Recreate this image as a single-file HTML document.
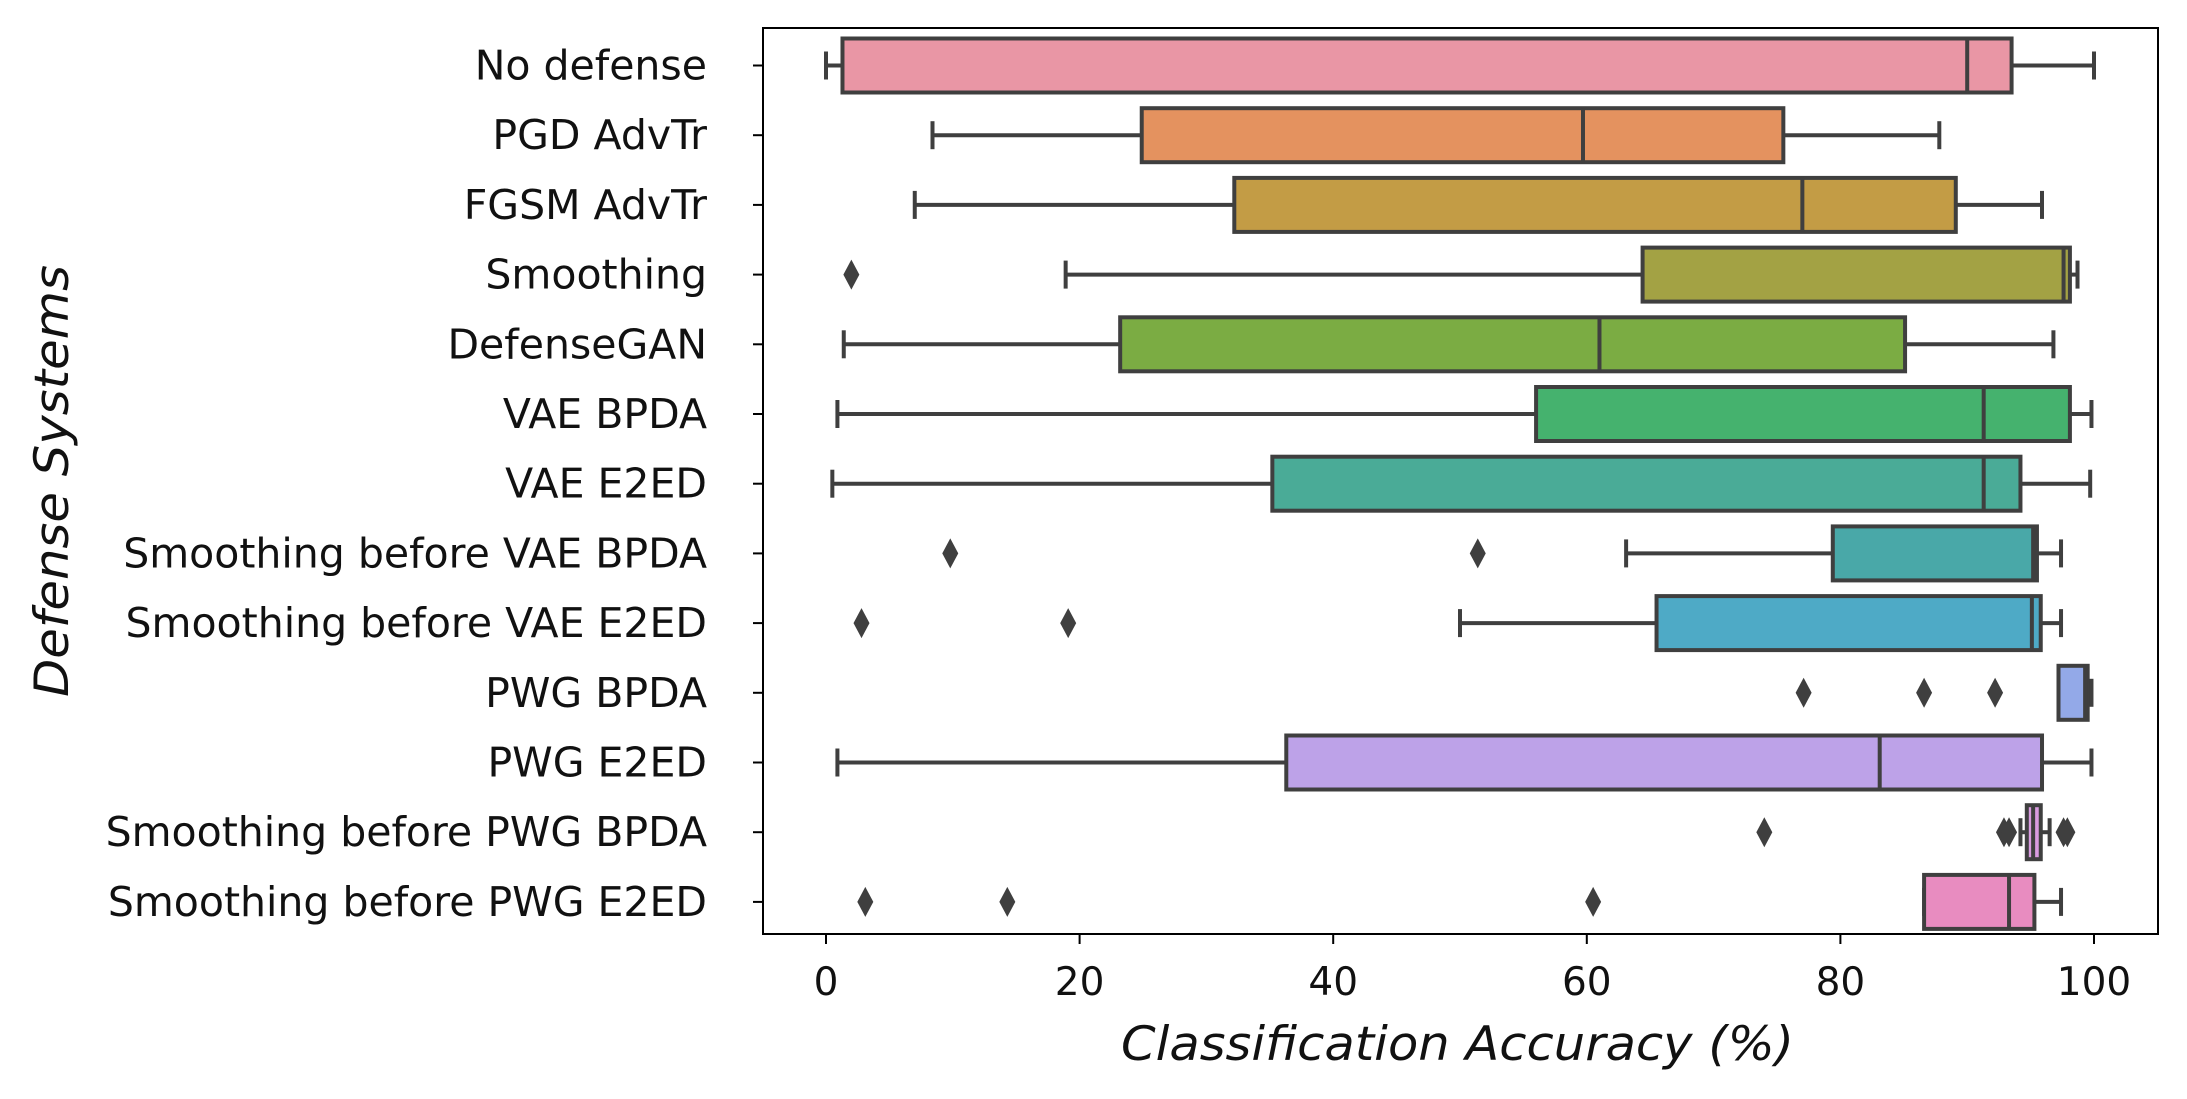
<!DOCTYPE html>
<html><head><meta charset="utf-8"><style>
html,body{margin:0;padding:0;background:#fff;}
svg{display:block;font-family:"DejaVu Sans","Liberation Sans",sans-serif;}
</style></head><body>
<svg id="chart" width="2187" height="1099" viewBox="0 0 2187 1099" xmlns="http://www.w3.org/2000/svg"></svg>
<script>
const categories = ["No defense","PGD AdvTr","FGSM AdvTr","Smoothing","DefenseGAN","VAE BPDA","VAE E2ED","Smoothing before VAE BPDA","Smoothing before VAE E2ED","PWG BPDA","PWG E2ED","Smoothing before PWG BPDA","Smoothing before PWG E2ED"];
const whiskerLow = [0,8.4,7.0,18.9,1.4,0.9,0.5,63.1,50,99.0,0.9,94.2,86.6];
const q1 = [1.3,24.9,32.2,64.4,23.2,56,35.2,79.4,65.5,97.2,36.3,94.7,86.6];
const median = [90,59.7,77,97.6,61,91.3,91.3,95.2,95.1,99.3,83.1,95.2,93.3];
const q3 = [93.5,75.5,89.1,98.1,85.1,98.1,94.2,95.5,95.8,99.5,95.9,95.8,95.3];
const whiskerHigh = [100,87.8,95.9,98.7,96.8,99.8,99.7,97.4,97.4,99.8,99.8,96.5,97.4];
const outliers = [[],[],[],[2],[],[],[],[9.8,51.4],[2.8,19.1],[77.1,86.6,92.2],[],[74,92.9,93.3,97.6,97.9],[3.1,14.3,60.5]];
const colors = ["#e996a5","#e4925f","#c39c45","#a3a244","#7bac43","#45b26e","#4aab97","#49a8a8","#4eaac6","#93a9e8","#bda2e8","#d99be0","#e88cc0"];
const xTicks = [0,20,40,60,80,100];

const NS="http://www.w3.org/2000/svg";
const svg=document.getElementById('chart');
const L=763,R=2158,T=28,B=934;
const x=v=>826+v*12.68;
const y=i=>65.5+69.7*i;
const line="#3f3f3f";
function el(tag,attrs,parent){const e=document.createElementNS(NS,tag);for(const k in attrs)e.setAttribute(k,attrs[k]);(parent||svg).appendChild(e);return e;}

categories.forEach((c,i)=>{
  const g=el('g',{});
  
  
  const cy=y(i),h=27;
  el('line',{x1:x(whiskerLow[i]),x2:x(q1[i]),y1:cy,y2:cy,stroke:line,'stroke-width':4},g);
  el('line',{x1:x(q3[i]),x2:x(whiskerHigh[i]),y1:cy,y2:cy,stroke:line,'stroke-width':4},g);
  el('line',{x1:x(whiskerLow[i]),x2:x(whiskerLow[i]),y1:cy-14,y2:cy+14,stroke:line,'stroke-width':4},g);
  el('line',{x1:x(whiskerHigh[i]),x2:x(whiskerHigh[i]),y1:cy-14,y2:cy+14,stroke:line,'stroke-width':4},g);
  el('rect',{x:x(q1[i]),y:cy-h,width:Math.max(2,x(q3[i])-x(q1[i])),height:2*h,fill:colors[i],stroke:line,'stroke-width':4},g);
  el('line',{x1:x(median[i]),x2:x(median[i]),y1:cy-h,y2:cy+h,stroke:line,'stroke-width':4},g);
  outliers[i].forEach(o=>{
    const d=el('path',{d:`M${x(o)},${cy-15} L${x(o)+8},${cy} L${x(o)},${cy+15} L${x(o)-8},${cy} Z`,fill:line},g);
    
    
  });
  el('line',{x1:L-10,x2:L,y1:cy,y2:cy,stroke:'#000','stroke-width':2});
  const t=el('text',{x:707,y:cy+14,'text-anchor':'end','font-size':41,fill:'#111'});
  t.textContent=c;
  
  
});
xTicks.forEach(v=>{
  el('line',{x1:x(v),x2:x(v),y1:B,y2:B+10,stroke:'#000','stroke-width':2});
  const t=el('text',{x:x(v),y:995,'text-anchor':'middle','font-size':39,fill:'#111'});
  t.textContent=v;
  
  
});
const frame=el('rect',{x:L,y:T,width:R-L,height:B-T,fill:'none',stroke:'#000','stroke-width':2});


const xt=el('text',{x:1121,y:1060,'font-size':47,'font-style':'italic',fill:'#111',textLength:673,lengthAdjust:'spacingAndGlyphs'});
xt.textContent='Classification Accuracy (%)';


const yt=el('text',{x:0,y:0,transform:`translate(68,481) rotate(-90)`,'text-anchor':'middle','font-size':47,'font-style':'italic',fill:'#111',textLength:432,lengthAdjust:'spacingAndGlyphs'});
yt.textContent='Defense Systems';


</script>
</body></html>
